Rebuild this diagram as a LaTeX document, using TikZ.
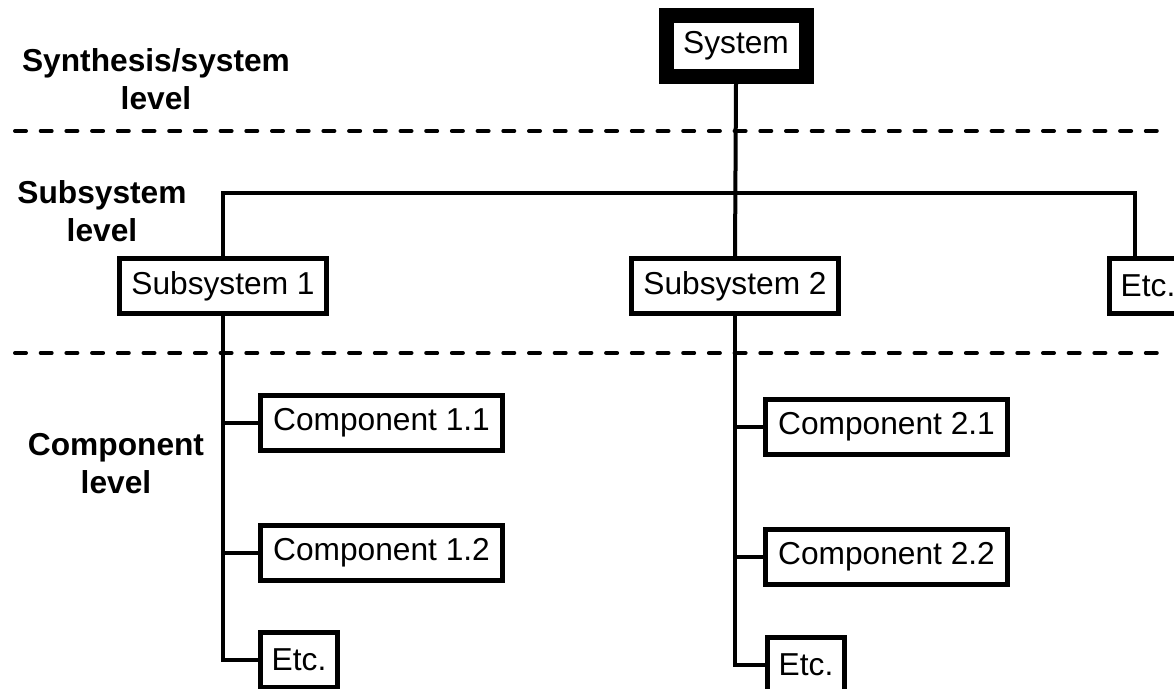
\documentclass[tikz,border=0pt]{standalone}
\usepackage{fontspec}
\setmainfont{Liberation Sans}
\usetikzlibrary{positioning}
\tikzset{
  treeLine/.style={line width=2pt, draw=black},
  levelLine/.style={line width=2pt, dash pattern=on 5.5pt off 7.35pt, line cap=round},
  % --- CAIXAS ---
  boxBase/.style={rectangle, draw=black, fill=white, line width=2.5pt, inner sep=0pt,
    minimum height=27.5pt, font=\fontsize{15.85pt}{19pt}\selectfont},
  sysBox/.style={boxBase, line width=7.5pt, minimum width=70pt, minimum height=30.5pt},
  subBox/.style={boxBase, minimum width=103.5pt},
  compBox/.style={boxBase, minimum width=121pt},
  etcBox/.style={boxBase, minimum width=38.5pt},
  levelLabel/.style={align=center, font=\fontsize{15.85pt}{19pt}\selectfont\bfseries}
}

\begin{document}
\begin{tikzpicture}[x=0.5pt, y=-0.5pt]
  \useasboundingbox (0,0) rectangle (1174,689);
  \clip (0,0) rectangle (1174,689);

  %% --- NIVEIS ---
  \draw[levelLine] (15,131) -- (1162,131);
  \draw[levelLine] (15,353) -- (1162,353);

  \node[levelLabel] (synLbl) at (156,79) {Synthesis/system\\level};
  \node[levelLabel] (subLbl) at (102,211) {Subsystem\\level};
  \node[levelLabel] (compLbl) at (116,464) {Component\\level};

  %% --- CAIXAS ---
  \node[sysBox] (system) at (736,46) {System};

  \node[subBox] (sub1) at (223,286) {Subsystem 1};
  \node[subBox] (sub2) at (735,286) {Subsystem 2};
  \node[etcBox] (etcS) at (1148,286) {Etc.};

  \node[compBox] (comp11) at (381.5,423) {Component 1.1};
  \node[compBox] (comp12) at (381.5,553) {Component 1.2};
  \node[etcBox] (etc1) at (299,660) {Etc.};

  \node[compBox] (comp21) at (886.5,427) {Component 2.1};
  \node[compBox] (comp22) at (886.5,557) {Component 2.2};
  \node[etcBox] (etc2) at (806,665) {Etc.};

  %% --- LIGACOES ---
  \draw[treeLine] (system.south) -- (sub2.north);

  \coordinate (bus) at (0,193);
  \coordinate (etcDrop) at ([xshift=-6.5pt]etcS.north);
  \draw[treeLine] (sub1.north) |- (bus -| etcDrop) -- (etcDrop);

  % Coluna 1
  \draw[treeLine] (sub1.south) |- (etc1.west);
  \foreach \c in {comp11, comp12} {
    \draw[treeLine] (\c.west) -- (\c.west -| sub1.south);
  }

  % Coluna 2
  \draw[treeLine] (sub2.south) |- (etc2.west);
  \foreach \c in {comp21, comp22} {
    \draw[treeLine] (\c.west) -- (\c.west -| sub2.south);
  }
\end{tikzpicture}
\end{document}
